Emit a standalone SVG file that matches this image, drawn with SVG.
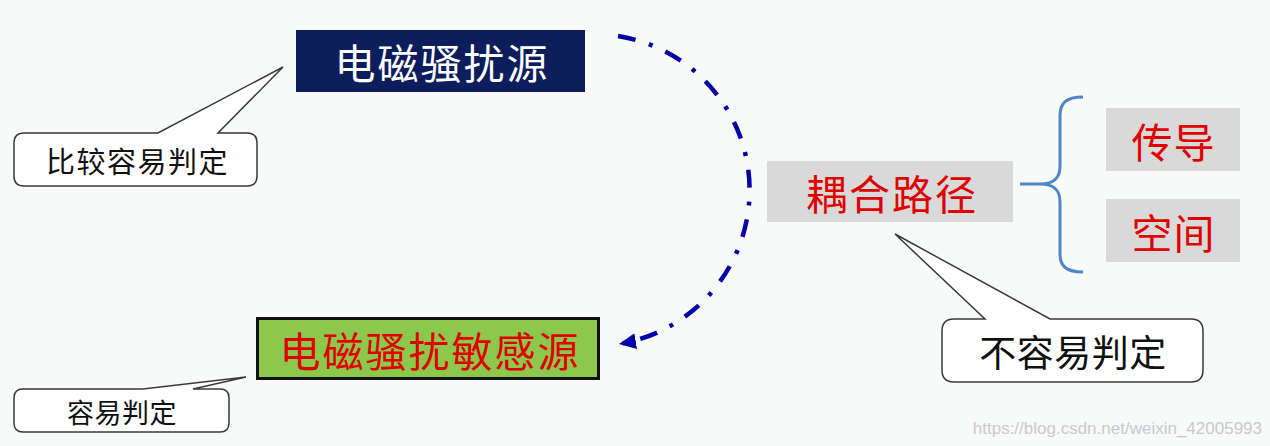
<svg xmlns="http://www.w3.org/2000/svg" width="1270" height="446" viewBox="0 0 1270 446">
<style>
.cjk{font-family:"Noto Sans CJK SC","Liberation Sans",sans-serif;text-anchor:middle;dominant-baseline:central}
.title{font-size:41px;letter-spacing:2px}
.red{fill:#e00000}
.callout{fill:#ffffff;stroke:#3a3a3a;stroke-width:1.5;stroke-linejoin:miter}
.ctext{fill:#111111}
.gray{fill:#d9d9d9}
</style>
<defs>
<marker id="arrow" markerUnits="userSpaceOnUse" markerWidth="18" markerHeight="16" refX="17" refY="8" orient="auto">
<path d="M0,0 L17,8 L0,16 Z" fill="#0000a8"/>
</marker>
</defs>
<rect x="0" y="0" width="1270" height="446" fill="#f8f9f9"/>

<g id="connectors">
<path d="M618,36 A156,156 0 0 1 619,344" fill="none" stroke="#0000a8" stroke-width="4.5" stroke-dasharray="18 14 4 14" marker-end="url(#arrow)"/>
<path d="M1083,97 C1066,97 1060,103 1060,116 L1060,166 C1060,178 1054,184 1040,184 L1020,184 M1040,184 C1054,184 1060,190 1060,202 L1060,254 C1060,266 1066,272 1083,272" fill="none" stroke="#4f86c6" stroke-width="3"/>
</g>

<g id="source">
<rect x="296" y="30" width="289" height="62" fill="#0c1d5c"/>
<text class="cjk title" x="442" y="61" fill="#ffffff">电磁骚扰源</text>
</g>

<g id="callout-easy-compare">
<path class="callout" d="M24,133 L158,133 L283,67 L218,133 L247,133 Q257,133 257,143 L257,176 Q257,186 247,186 L24,186 Q14,186 14,176 L14,143 Q14,133 24,133 Z"/>
<text class="cjk ctext" x="137.5" y="160" font-size="29" letter-spacing="1.5">比较容易判定</text>
</g>

<g id="victim">
<rect x="257.5" y="318.5" width="341" height="60" fill="#8cc84b" stroke="#111111" stroke-width="3"/>
<text class="cjk title red" x="430" y="349" font-size="42" letter-spacing="2.5">电磁骚扰敏感源</text>
</g>

<g id="callout-easy">
<path class="callout" d="M23,389 L143,389 L246,377 L193,389 L220,389 Q229,389 229,398 L229,423 Q229,432 220,432 L23,432 Q14,432 14,423 L14,398 Q14,389 23,389 Z"/>
<text class="cjk ctext" x="122" y="411" font-size="27" letter-spacing="0.5">容易判定</text>
</g>

<g id="coupling">
<rect class="gray" x="767" y="161" width="246" height="61"/>
<text class="cjk title red" x="892" y="192" font-size="42" letter-spacing="2.5">耦合路径</text>
</g>

<g id="conduction">
<rect class="gray" x="1106" y="108" width="134" height="63"/>
<text class="cjk red" x="1173.5" y="140" font-size="41" letter-spacing="1">传导</text>
</g>

<g id="radiation">
<rect class="gray" x="1106" y="199" width="134" height="63"/>
<text class="cjk red" x="1173.5" y="231" font-size="41" letter-spacing="1">空间</text>
</g>

<g id="callout-hard">
<path class="callout" d="M954,319 L985,319 L895,234 L1050,319 L1191,319 Q1203,319 1203,331 L1203,370 Q1203,382 1191,382 L954,382 Q942,382 942,370 L942,331 Q942,319 954,319 Z"/>
<text class="cjk ctext" x="1073" y="351" font-size="37" letter-spacing="0.5">不容易判定</text>
</g>

<text x="1262" y="434" font-family="Liberation Sans, sans-serif" font-size="17" fill="#c9c9c9" text-anchor="end">https://blog.csdn.net/weixin_42005993</text>
</svg>
